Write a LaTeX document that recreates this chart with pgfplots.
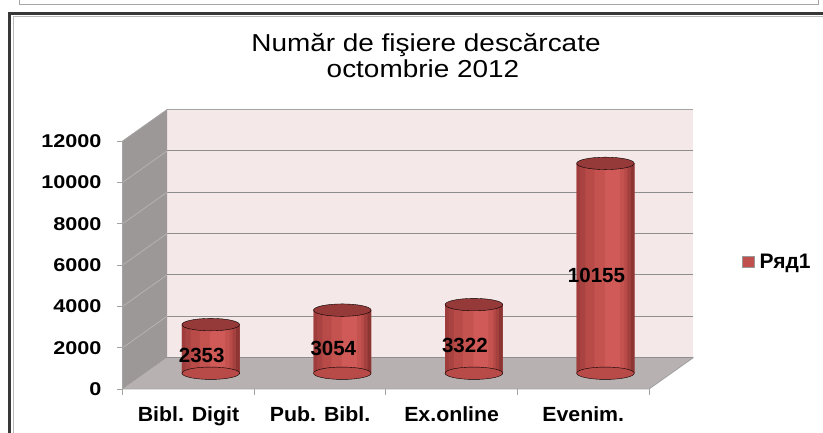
\documentclass[border=0pt]{standalone}
\usepackage{pgfplots}
\usepackage{pgfplotstable}
\pgfplotsset{compat=1.18}
\usepackage{fontspec}
\setmainfont{Liberation Sans}
\definecolor{backwall}{HTML}{F4E8E8}
\definecolor{floorc}{HTML}{B8B1B1}
\definecolor{leftwall}{HTML}{9D9898}
\definecolor{leftline}{HTML}{B7B2B2}
\definecolor{gridc}{HTML}{8E8E8E}
\definecolor{edgec}{HTML}{A3A3A3}
\definecolor{barc}{HTML}{C0504D}
\definecolor{cA}{HTML}{A94341}
\definecolor{cB}{HTML}{B84A47}
\definecolor{cC}{HTML}{C4524F}
\definecolor{cD}{HTML}{D05A57}
\definecolor{cE}{HTML}{A4403E}
\definecolor{cF}{HTML}{8C3533}
\definecolor{cG}{HTML}{9E3D3B}
\definecolor{bartop}{HTML}{953A38}
\pgfplotstableread{
x v
0 2353
1 3054
2 3322
3 10155
}\datatable
\pgfplotstableread{
x v
0 0
1 0
2 0
3 0
}\basetable
\begin{document}
\begin{tikzpicture}
\useasboundingbox (0,0) rectangle (823pt,433pt);
\fill[white] (0,0) rectangle (823pt,433pt);
% outer frames
\draw[gray!70, line width=0.8pt] (19pt,433pt) -- (19pt,429pt) -- (818pt,429pt) -- (818pt,433pt);
\draw[black!78, line width=3pt] (9.5pt,0) -- (9.5pt,419.5pt) -- (823pt,419.5pt);
\draw[gray!55, line width=0.8pt] (13pt,0) -- (13pt,416.3pt) -- (823pt,416.3pt);
% title
\node[font=\fontsize{24.5}{26}\selectfont, xscale=1.14, anchor=base, inner sep=0pt] at (426pt,381.3pt) {Număr de fişiere descărcate};
\node[font=\fontsize{24.5}{26}\selectfont, xscale=1.14, anchor=base, inner sep=0pt] at (423pt,355pt) {octombrie 2012};

% front plane axis (walls, ticks, labels)
\begin{axis}[
  at={(122.7pt,44pt)}, anchor=south west, scale only axis,
  width=526.3pt, height=248pt,
  xmin=-0.5, xmax=3.5, ymin=0, ymax=12000,
  clip=false,
  axis line style={draw=none},
  tick pos=left, tick align=outside,
  xtick={0,1,2,3},
  xticklabels={Bibl. Digit, Pub. Bibl., Ex.online, Evenim.},
  minor xtick={-0.5,0.5,1.5,2.5,3.5},
  ytick={0,2000,...,12000},
  major tick length=6pt, minor tick length=6pt,
  major x tick style={draw=none},
  minor x tick style={edgec, line width=0.8pt},
  major y tick style={edgec, line width=0.8pt},
  scaled y ticks=false,
  yticklabel style={/pgf/number format/1000 sep={}, /pgf/number format/assume math mode=true,
    font=\fontsize{18.5}{20}\selectfont\bfseries, xscale=1.17, inner sep=0pt, anchor=east},
  yticklabel shift=15pt,
  xticklabel style={font=\fontsize{20.5}{22}\selectfont\bfseries, xscale=1.04, inner sep=0pt, anchor=north},
  xticklabel shift=11pt,
]
\fill[backwall] (axis cs:-0.162,1524) rectangle (axis cs:3.838,13524);
\fill[floorc] (axis cs:-0.5,0) -- (axis cs:3.5,0) -- (axis cs:3.838,1524) -- (axis cs:-0.162,1524) -- cycle;
\fill[leftwall] (axis cs:-0.5,0) -- (axis cs:-0.162,1524) -- (axis cs:-0.162,13524) -- (axis cs:-0.5,12000) -- cycle;
\draw[gridc, line width=0.9pt] (axis cs:-0.162,3524) -- (axis cs:3.838,3524);
\draw[gridc, line width=0.9pt] (axis cs:-0.162,5524) -- (axis cs:3.838,5524);
\draw[gridc, line width=0.9pt] (axis cs:-0.162,7524) -- (axis cs:3.838,7524);
\draw[gridc, line width=0.9pt] (axis cs:-0.162,9524) -- (axis cs:3.838,9524);
\draw[gridc, line width=0.9pt] (axis cs:-0.162,11524) -- (axis cs:3.838,11524);
\draw[edgec, line width=0.9pt] (axis cs:-0.162,13524) -- (axis cs:3.838,13524);
\draw[gridc, line width=0.9pt] (axis cs:-0.162,1524) -- (axis cs:3.838,1524);
\draw[leftline, line width=0.8pt] (axis cs:-0.5,2000) -- (axis cs:-0.162,3524);
\draw[leftline, line width=0.8pt] (axis cs:-0.5,4000) -- (axis cs:-0.162,5524);
\draw[leftline, line width=0.8pt] (axis cs:-0.5,6000) -- (axis cs:-0.162,7524);
\draw[leftline, line width=0.8pt] (axis cs:-0.5,8000) -- (axis cs:-0.162,9524);
\draw[leftline, line width=0.8pt] (axis cs:-0.5,10000) -- (axis cs:-0.162,11524);
\draw[edgec, line width=0.8pt] (axis cs:-0.5,12000) -- (axis cs:-0.162,13524);
\draw[edgec, line width=0.9pt] (axis cs:-0.5,12000) -- (axis cs:-0.5,0) -- (axis cs:3.5,0) -- (axis cs:3.838,1524);
\end{axis}

% cylinders at mid depth
\begin{axis}[
  at={(144.95pt,59.75pt)}, anchor=south west, scale only axis,
  width=526.3pt, height=248pt,
  xmin=-0.5, xmax=3.5, ymin=0, ymax=12000,
  clip=false, hide axis,
  legend cell align=left,
  legend style={at={(1.1344,0.4486)}, anchor=west, draw=none, fill=none,
    font=\fontsize{21}{23}\selectfont\bfseries, inner sep=0pt,
    /tikz/every odd column/.append style={column sep=3pt}},
]
% bottom ellipses
\addplot[only marks, mark=*, mark size=28.8pt, mark options={yscale=0.215, draw=none, fill=cB}, forget plot]
  table[x=x, y=v] {\basetable};
% cylinder bodies (stripes give the round shading)
\addplot[ybar, bar width=57.6pt, bar shift=0pt, draw=none, fill=cA,
  legend image code/.code={\fill[barc, draw=gray!80] (0pt,-5.5pt) rectangle (12pt,5.5pt);}]
  table[x=x, y=v] {\datatable};
\addlegendentry{Ряд1}
\addplot[ybar, bar width=44pt, bar shift=2pt, draw=none, fill=cB, forget plot] table[x=x, y=v] {\datatable};
\addplot[ybar, bar width=30pt, bar shift=4pt, draw=none, fill=cC, forget plot] table[x=x, y=v] {\datatable};
\addplot[ybar, bar width=15pt, bar shift=7pt, draw=none, fill=cD, forget plot] table[x=x, y=v] {\datatable};
\addplot[ybar, bar width=7pt, bar shift=25.3pt, draw=none, fill=cE, forget plot] table[x=x, y=v] {\datatable};
\addplot[ybar, bar width=3.5pt, bar shift=27.05pt, draw=none, fill=cF, forget plot] table[x=x, y=v] {\datatable};
\addplot[ybar, bar width=3.5pt, bar shift=-27.05pt, draw=none, fill=cG, forget plot] table[x=x, y=v] {\datatable};
% top ellipses
\addplot[only marks, mark=*, mark size=28.8pt, mark options={yscale=0.215, draw=none, fill=bartop}, forget plot]
  table[x=x, y=v] {\datatable};
% value labels
\addplot[draw=none, mark=none, forget plot, nodes near coords, point meta=explicit symbolic,
  every node near coord/.append style={anchor=center, font=\fontsize{20.5}{22}\selectfont\bfseries, xshift=-9pt, yshift=-6.8pt, inner sep=0pt}]
  table[x=x, y expr=\thisrow{v}/2, meta=v] {\datatable};
\end{axis}
\end{tikzpicture}
\end{document}
